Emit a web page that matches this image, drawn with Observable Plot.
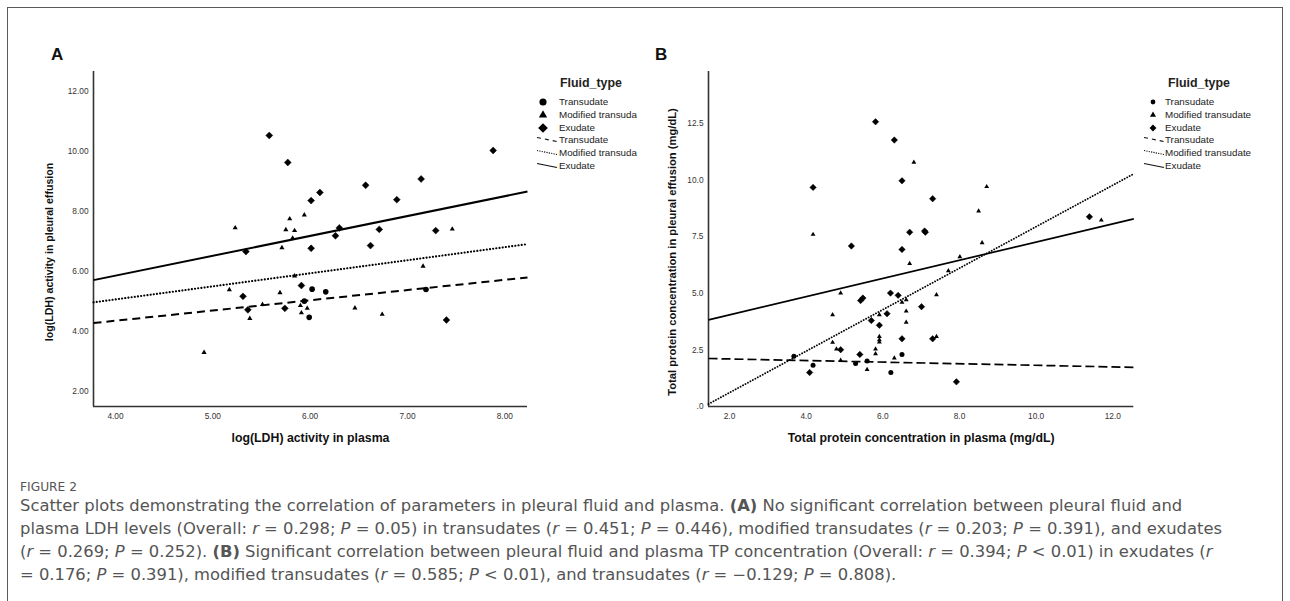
<!DOCTYPE html>
<html>
<head>
<meta charset="utf-8">
<script src="https://cdn.jsdelivr.net/npm/d3@7"></script>
<script src="https://cdn.jsdelivr.net/npm/@observablehq/plot@0.6"></script>
<style>
html,body{margin:0;padding:0;background:#fff;}
#root{position:relative;width:1290px;height:601px;overflow:hidden;background:#fff;font-family:"Liberation Sans",Arial,Helvetica,sans-serif;}
#frame{position:absolute;left:7px;top:7px;width:1276px;height:700px;border:1px solid #5a5a5a;box-sizing:border-box;}
.panel{position:absolute;top:0;}
.letter{position:absolute;font-weight:bold;font-size:17px;color:#111;line-height:1;}
.legwrap{position:absolute;top:0;height:200px;overflow:hidden;}
.legtitle{position:absolute;font-weight:bold;font-size:12.4px;color:#222;line-height:1;transform:translateY(-50%);white-space:nowrap;}
.legitem{position:absolute;font-size:9.8px;color:#222;line-height:1;white-space:nowrap;transform:translateY(-50%);}
.legicon{position:absolute;overflow:visible;}
.cap{position:absolute;left:20px;color:#555;white-space:nowrap;line-height:1;font-family:"Liberation Sans Narrow","DejaVu Sans Condensed","Roboto Condensed","Liberation Sans",sans-serif;transform-origin:0 50%;}
</style>
</head>
<body>
<div id="root">
  <div id="frame"></div>
  <div id="panelA" class="panel" style="left:0;width:640px;height:460px;"></div>
  <div id="panelB" class="panel" style="left:640px;width:650px;height:460px;"></div>
  <div class="letter" style="left:51px;top:46px;">A</div>
  <div class="letter" style="left:655px;top:46px;">B</div>
  <div id="legA" class="legwrap" style="left:0;width:637px;"></div>
  <div id="legB" class="legwrap" style="left:0;width:1290px;"></div>
  <div id="fig" class="cap" style="top:487px;font-size:12.5px;">FIGURE 2</div>
  <div class="cap line" style="top:507px;font-size:15.5px;">Scatter plots demonstrating the correlation of parameters in pleural fluid and plasma. <b>(A)</b> No significant correlation between pleural fluid and</div>
  <div class="cap line" id="line2" style="top:530px;font-size:15.5px;">plasma LDH levels (Overall: <i>r</i> = 0.298; <i>P</i> = 0.05) in transudates (<i>r</i> = 0.451; <i>P</i> = 0.446), modified transudates (<i>r</i> = 0.203; <i>P</i> = 0.391), and exudates</div>
  <div class="cap line" style="top:553px;font-size:15.5px;">(<i>r</i> = 0.269; <i>P</i> = 0.252). <b>(B)</b> Significant correlation between pleural fluid and plasma TP concentration (Overall: <i>r</i> = 0.394; <i>P</i> &lt; 0.01) in exudates (<i>r</i></div>
  <div class="cap line" style="top:576px;font-size:15.5px;">= 0.176; <i>P</i> = 0.391), modified transudates (<i>r</i> = 0.585; <i>P</i> &lt; 0.01), and transudates (<i>r</i> = −0.129; <i>P</i> = 0.808).</div>
</div>
<script>
// ---------- categories ----------
const fluidTypes = ["Transudate", "Modified transudate", "Exudate"];

// ---------- Panel A: log(LDH) ----------
const aTitleX = "log(LDH) activity in plasma";
const aTitleY = "log(LDH) activity in pleural effusion";
const aTicksX = [4, 5, 6, 7, 8];
const aTicksY = [2, 4, 6, 8, 10, 12];
const aTransX = [6.02, 6.16, 5.94, 5.99, 7.19];
const aTransY = [5.41, 5.32, 5.01, 4.47, 5.40];
const aModX = [5.23, 5.79, 5.94, 5.75, 5.84, 5.82, 5.71, 7.46, 7.16, 5.84, 5.17, 5.69, 5.51, 5.38, 5.90, 5.97, 5.91, 6.46, 6.74, 4.91];
const aModY = [7.45, 7.75, 7.88, 7.39, 7.36, 7.11, 6.79, 7.41, 6.17, 5.85, 5.39, 5.29, 4.90, 4.43, 4.86, 4.77, 4.62, 4.78, 4.57, 3.30];
const aExuX = [5.58, 5.77, 7.88, 7.14, 6.57, 6.10, 6.01, 6.89, 6.30, 6.26, 6.71, 7.29, 6.62, 6.01, 5.34, 5.31, 5.36, 5.74, 5.91, 7.40];
const aExuY = [10.53, 9.63, 10.03, 9.08, 8.87, 8.63, 8.36, 8.39, 7.45, 7.19, 7.40, 7.36, 6.86, 6.77, 6.66, 5.17, 4.72, 4.77, 5.53, 4.38];
// fit lines (ends)
const aFitX = [3.774, 8.233];
const aFitTrans = [4.28, 5.80];
const aFitMod = [4.97, 6.91];
const aFitExu = [5.71, 8.66];

// ---------- Panel B: total protein ----------
const bTitleX = "Total protein concentration in plasma (mg/dL)";
const bTitleY = "Total protein concentration in pleural effusion (mg/dL)";
const bTicksX = [2, 4, 6, 8, 10, 12];
const bTicksY = [0, 2.5, 5, 7.5, 10, 12.5];
const bTransX = [6.50, 3.68, 5.29, 5.59, 4.18, 6.21];
const bTransY = [2.30, 2.22, 1.90, 2.01, 1.82, 1.50];
const bModX = [6.81, 4.18, 8.71, 8.50, 8.59, 11.70, 6.70, 8.01, 7.71, 4.90, 6.50, 6.61, 7.40, 6.61, 6.61, 5.91, 4.69, 5.91, 5.91, 5.91, 7.40, 4.69, 4.79, 5.81, 5.81, 6.30, 4.90, 5.59];
const bModY = [10.79, 7.60, 9.71, 8.63, 7.23, 8.23, 6.31, 6.61, 5.99, 5.01, 4.60, 4.71, 4.93, 4.21, 3.72, 4.05, 4.05, 3.09, 2.95, 2.85, 3.09, 2.83, 2.54, 2.54, 2.33, 2.14, 2.04, 1.63];
const bExuX = [5.81, 6.30, 6.50, 4.18, 7.30, 7.09, 7.11, 6.70, 5.18, 6.50, 11.39, 5.42, 5.48, 6.20, 6.40, 7.01, 6.11, 5.70, 5.91, 6.50, 7.30, 4.90, 5.40, 4.09, 7.92];
const bExuY = [12.58, 11.77, 9.97, 9.68, 9.18, 7.75, 7.70, 7.70, 7.09, 6.94, 8.38, 4.68, 4.79, 5.01, 4.91, 4.41, 4.10, 3.80, 3.59, 2.99, 2.99, 2.51, 2.30, 1.50, 1.09];
const bFitX = [1.452, 12.548];
const bFitTrans = [2.12, 1.73];
const bFitMod = [0.11, 10.28];
const bFitExu = [3.83, 8.29];

function pts(xs, ys) { return xs.map((x, i) => ({x, y: ys[i]})); }
function fit(xs, ys) { return xs.map((x, i) => ({x, y: ys[i]})); }

function makePanel(o) {
  const axisColor = "#333";
  return Plot.plot({
    width: o.width, height: o.height,
    marginLeft: o.ml, marginRight: o.mr, marginTop: o.mt, marginBottom: o.mb,
    x: {domain: o.xDomain},
    y: {domain: o.yDomain},
    style: {fontFamily: '"Liberation Sans", Arial, sans-serif', fontSize: "8.3px", color: "#333", background: "transparent", overflow: "visible"},
    marks: [
      Plot.axisX({ticks: o.xTicks, tickFormat: o.xFmt, tickSize: 0, tickPadding: 7, label: null, fill: "#333"}),
      Plot.axisY({ticks: o.yTicks, tickFormat: o.yFmt, tickSize: 0, tickPadding: 5, label: null, fill: "#333"}),
      Plot.ruleX([o.xDomain[0]], {stroke: axisColor, strokeWidth: 1.6}),
      Plot.ruleY([o.yDomain[0]], {stroke: axisColor, strokeWidth: 1.6}),
      Plot.text([o.xTitle], {frameAnchor: "bottom", dy: 32, lineAnchor: "middle", textAnchor: "middle", text: d => d, fontSize: o.xTitleSize, fontWeight: "bold", fill: "#111"}),
      Plot.text([o.yTitle], {frameAnchor: "left", dx: o.yTitleDx, dy: o.yTitleDy, rotate: -90, textAnchor: "middle", lineAnchor: "middle", text: d => d, fontSize: o.yTitleSize, fontWeight: "bold", fill: "#111"}),
      Plot.line(o.fitTrans, {x: "x", y: "y", stroke: "#000", strokeWidth: o.lw, strokeDasharray: o.dash, strokeLinecap: "butt"}),
      Plot.line(o.fitMod, {x: "x", y: "y", stroke: "#000", strokeWidth: o.lwDot, strokeDasharray: o.dot, strokeLinecap: "round"}),
      Plot.line(o.fitExu, {x: "x", y: "y", stroke: "#000", strokeWidth: o.lw, strokeLinecap: "butt"}),
      Plot.dot(o.trans, {x: "x", y: "y", symbol: "circle", r: o.rc, fill: "#000", stroke: "none"}),
      Plot.dot(o.mod, {x: "x", y: "y", symbol: "triangle", r: o.rt, fill: "#000", stroke: "none"}),
      Plot.dot(o.exu, {x: "x", y: "y", symbol: "diamond2", r: o.rd, fill: "#000", stroke: "#000", strokeWidth: 0.5})
    ]
  });
}

document.getElementById("panelA").appendChild(makePanel({
  width: 640, height: 460, ml: 93, mr: 113, mt: 71, mb: 54,
  xDomain: [3.774, 8.233], yDomain: [1.5, 12.66],
  xTicks: aTicksX, yTicks: aTicksY, xFmt: d3.format(".2f"), yFmt: d3.format(".2f"),
  xTitle: aTitleX, yTitle: aTitleY, xTitleSize: 12.3, yTitleSize: 10.6, yTitleDx: -44, yTitleDy: 13,
  trans: pts(aTransX, aTransY), mod: pts(aModX, aModY), exu: pts(aExuX, aExuY),
  fitTrans: fit(aFitX, aFitTrans), fitMod: fit(aFitX, aFitMod), fitExu: fit(aFitX, aFitExu),
  lw: 2, lwDot: 2.1, dash: "8,5", dot: "0.1,3.1", rc: 2.8, rt: 1.9, rd: 3.1
}));

document.getElementById("panelB").appendChild(makePanel({
  width: 650, height: 460, ml: 68, mr: 156.7, mt: 71, mb: 54,
  xDomain: [1.452, 12.548], yDomain: [0, 14.8],
  xTicks: bTicksX, yTicks: bTicksY, xFmt: d3.format(".1f"), yFmt: d => d === 0 ? ".0" : d3.format(".1f")(d),
  xTitle: bTitleX, yTitle: bTitleY, xTitleSize: 12.3, yTitleSize: 11.2, yTitleDx: -36, yTitleDy: 13,
  trans: pts(bTransX, bTransY), mod: pts(bModX, bModY), exu: pts(bExuX, bExuY),
  fitTrans: fit(bFitX, bFitTrans), fitMod: fit(bFitX, bFitMod), fitExu: fit(bFitX, bFitExu),
  lw: 1.7, lwDot: 1.8, dash: "9,4", dot: "0.1,2.7", rc: 2.5, rt: 1.8, rd: 2.9
}));

// ---------- legends ----------
const legendTitle = "Fluid_type";
const legendMarkerNames = fluidTypes;
const legendLineNames = fluidTypes;
function buildLegend(el, o) {
  const rows0 = 101.7, step = 12.9;
  const t = document.createElement("div");
  t.className = "legtitle"; t.textContent = legendTitle;
  t.style.left = o.titleX + "px"; t.style.top = "83px";
  el.appendChild(t);
  const syms = [d3.symbolCircle, d3.symbolTriangle, d3.symbolDiamond2];
  const ns = "http://www.w3.org/2000/svg";
  legendMarkerNames.forEach((name, i) => {
    const y = rows0 + i * step;
    const svg = document.createElementNS(ns, "svg");
    svg.setAttribute("class", "legicon");
    svg.setAttribute("width", 20); svg.setAttribute("height", 20);
    svg.style.left = (o.symX - 10) + "px"; svg.style.top = (y - 10) + "px";
    const p = document.createElementNS(ns, "path");
    p.setAttribute("d", d3.symbol(syms[i], o.symSizes[i])());
    p.setAttribute("transform", "translate(10,10)");
    p.setAttribute("fill", "#000");
    svg.appendChild(p); el.appendChild(svg);
    const d = document.createElement("div");
    d.className = "legitem"; d.textContent = name;
    d.style.left = o.textX + "px"; d.style.top = y + "px";
    el.appendChild(d);
  });
  const dashes = ["4,4", "1.2,1.2", null];
  legendLineNames.forEach((name, i) => {
    const y = rows0 + (i + 3) * step;
    const svg = document.createElementNS(ns, "svg");
    svg.setAttribute("class", "legicon");
    svg.setAttribute("width", 24); svg.setAttribute("height", 12);
    svg.style.left = o.lineX0 + "px"; svg.style.top = (y - 6) + "px";
    const l = document.createElementNS(ns, "line");
    l.setAttribute("x1", 0); l.setAttribute("y1", 3.5);
    l.setAttribute("x2", o.lineLen); l.setAttribute("y2", 7.5);
    l.setAttribute("stroke", "#111"); l.setAttribute("stroke-width", 1.1);
    if (dashes[i]) l.setAttribute("stroke-dasharray", dashes[i]);
    svg.appendChild(l); el.appendChild(svg);
    const d = document.createElement("div");
    d.className = "legitem"; d.textContent = name;
    d.style.left = o.textX + "px"; d.style.top = y + "px";
    el.appendChild(d);
  });
}
buildLegend(document.getElementById("legA"), {titleX: 560, symX: 542.7, textX: 559, lineX0: 537, lineLen: 20, symSizes: [40, 30, 60]});
buildLegend(document.getElementById("legB"), {titleX: 1168, symX: 1153, textX: 1165, lineX0: 1144, lineLen: 20, symSizes: [18, 16, 30]});

// ---------- caption horizontal fit ----------
const line2 = document.getElementById("line2");
const k = 1202 / line2.getBoundingClientRect().width;
document.querySelectorAll(".cap.line").forEach(el => { el.style.transform = `translateY(-50%) scaleX(${k})`; });
const fig = document.getElementById("fig");
const k2 = 57 / fig.getBoundingClientRect().width;
fig.style.transform = `translateY(-50%) scaleX(${k2})`;
</script>
</body>
</html>
